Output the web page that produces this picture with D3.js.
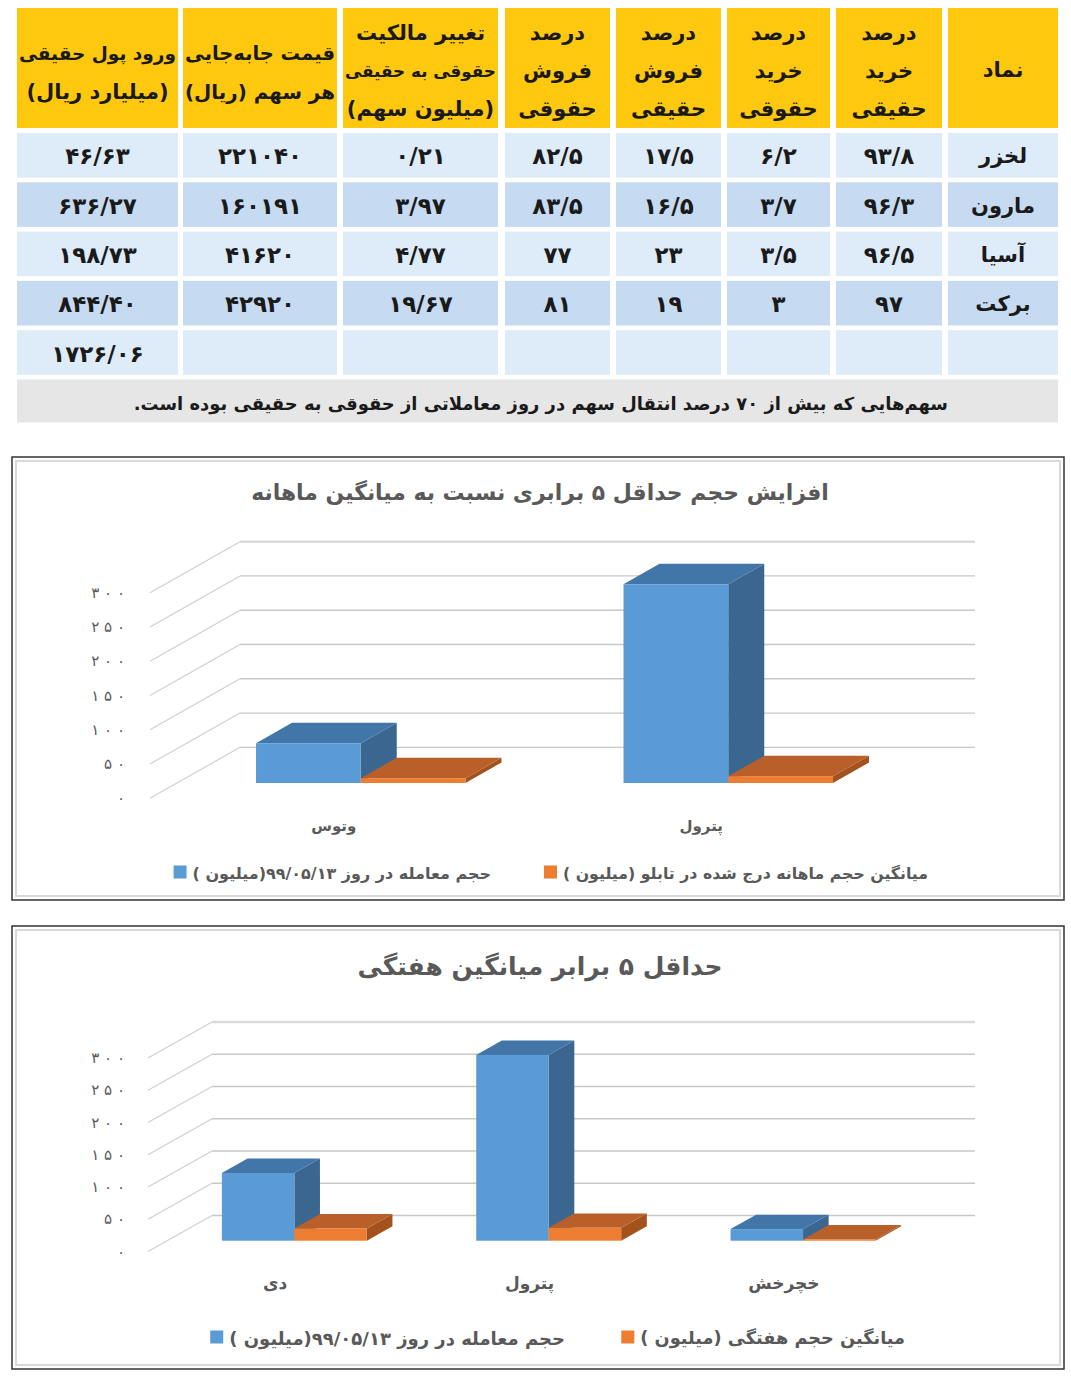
<!DOCTYPE html>
<html>
<head>
<meta charset="utf-8">
<script src="https://cdn.jsdelivr.net/npm/d3@7"></script>
<style>
  body { margin: 0; background: #fff; }
  text { font-family: "DejaVu Sans", sans-serif; }
</style>
</head>
<body>
<div id="page"></div>
<script>
// ---- table data ----
const symbols = ["لخزر", "مارون", "آسیا", "برکت"]
const buyReal = [93.8, 96.3, 96.5, 97]
const buyLegal = [6.2, 3.7, 3.5, 3]
const sellReal = [17.5, 16.5, 23, 19]
const sellLegal = [82.5, 83.5, 77, 81]
const ownershipChange = [0.21, 3.97, 4.77, 19.67]
const transferPrice = [221040, 160191, 41620, 42920]
const realInflow = [46.63, 636.27, 198.73, 844.4]
const realInflowTotal = 1726.06
const tableHeaders = [
  ["نماد"],
  ["درصد", "خرید", "حقیقی"],
  ["درصد", "خرید", "حقوقی"],
  ["درصد", "فروش", "حقیقی"],
  ["درصد", "فروش", "حقوقی"],
  ["تغییر مالکیت", "حقوقی به حقیقی", "(میلیون سهم)"],
  ["قیمت جابه‌جایی", "هر سهم (ریال)"],
  ["ورود پول حقیقی", "(میلیارد ریال)"]
]
const footnote = "سهم‌هایی که بیش از ۷۰ درصد انتقال سهم در روز معاملاتی از حقوقی به حقیقی بوده است."

// ---- chart data ----
const volumeTicks = [0, 50, 100, 150, 200, 250, 300]
const monthlyTitle = "افزایش حجم حداقل ۵ برابری نسبت به میانگین ماهانه"
const monthlyCategories = ["وتوس", "پترول"]
const monthlyDayVolume = [58, 290]
const monthlyAvgVolume = [7, 10]
const monthlySeriesNames = ["حجم معامله در روز ۹۹/۰۵/۱۳(میلیون )", "میانگین حجم ماهانه درج شده در تابلو (میلیون )"]

const weeklyTitle = "حداقل ۵ برابر میانگین هفتگی"
const weeklyCategories = ["دی", "پترول", "خچرخش"]
const weeklyDayVolume = [105, 288, 18]
const weeklyAvgVolume = [19, 20, 2]
const weeklySeriesNames = ["حجم معامله در روز ۹۹/۰۵/۱۳(میلیون )", "میانگین حجم هفتگی (میلیون )"]

// تبدیل ارقام به فارسی
const faDigits = "۰۱۲۳۴۵۶۷۸۹"
function fa(v, dec) {
  const s = dec == null ? String(v) : v.toFixed(dec)
  return s.replace(".", "/").replace(/\d/g, (d) => faDigits[d])
}

function fit(sel, maxW) {
  const len = sel.node().getComputedTextLength()
  if (len > maxW) {
    const fs = parseFloat(sel.attr("font-size"))
    sel.attr("font-size", (fs * maxW) / len)
  }
  return sel
}

const svg = d3.select("#page").append("svg")
  .attr("width", 1071)
  .attr("height", 1377)

// ================= table =================
// column edges, right to left
const colEdges = [[948, 1058], [836, 942], [727, 830], [616, 721], [505, 610], [343, 498], [183, 337], [17, 178]]
const columns = [
  { values: symbols, dec: null, name: true },
  { values: buyReal, dec: null },
  { values: buyLegal, dec: null },
  { values: sellReal, dec: null },
  { values: sellLegal, dec: null },
  { values: ownershipChange, dec: 2 },
  { values: transferPrice, dec: null },
  { values: realInflow.concat([realInflowTotal]), dec: 2 }
]
const rowY = (i) => 133 + i * 49.3
const rowH = 44.6
const rowFill = ["#deebf8", "#c6dbf2"]
const table = svg.append("g")

// header
tableHeaders.forEach((lines, c) => {
  const [x0, x1] = colEdges[c]
  table.append("rect").attr("x", x0).attr("y", 8).attr("width", x1 - x0).attr("height", 120).attr("fill", "#fec80e")
  const ys = lines.length === 1 ? [70] : lines.length === 2 ? [53, 92] : [33, 71, 109]
  lines.forEach((t, k) => {
    fit(table.append("text")
      .attr("x", (x0 + x1) / 2).attr("y", ys[k])
      .attr("text-anchor", "middle").attr("dominant-baseline", "central")
      .attr("direction", "rtl")
      .attr("font-size", 21).attr("font-weight", "bold").attr("fill", "#1a1a1a")
      .text(t), x1 - x0 - 4)
  })
})

// body
for (let r = 0; r < 5; r++) {
  columns.forEach((col, c) => {
    const [x0, x1] = colEdges[c]
    table.append("rect").attr("x", x0).attr("y", rowY(r)).attr("width", x1 - x0).attr("height", rowH)
      .attr("fill", rowFill[r % 2])
    const v = col.values[r]
    if (v === undefined) return
    fit(table.append("text")
      .attr("x", (x0 + x1) / 2).attr("y", rowY(r) + rowH / 2 + 1)
      .attr("text-anchor", "middle").attr("dominant-baseline", "central")
      .attr("font-size", col.name ? 21 : 23).attr("font-weight", "bold").attr("fill", "#1a1a1a")
      .text(col.name ? v : fa(v, col.dec)), x1 - x0 - 8)
  })
}

// footnote
table.append("rect").attr("x", 17).attr("y", 379.5).attr("width", 1041).attr("height", 43).attr("fill", "#e6e6e6")
fit(table.append("text")
  .attr("x", 948).attr("y", 403)
  .attr("direction", "rtl").attr("text-anchor", "start").attr("dominant-baseline", "central")
  .attr("font-size", 20).attr("font-weight", "bold").attr("fill", "#1a1a1a")
  .text(footnote), 815)

// ================= 3D column charts =================
const blue = { front: "#5b9bd5", top: "#4275a8", side: "#3a6690" }
const orange = { front: "#ed7d31", top: "#b9602a", side: "#a3521e" }

function drawChart(o) {
  const g = svg.append("g")
  const [bx, by, bw, bh] = o.box
  g.append("rect").attr("x", bx).attr("y", by).attr("width", bw).attr("height", bh)
    .attr("fill", "#fff").attr("stroke", "#333").attr("stroke-width", 1.5)
  g.append("rect").attr("x", bx + 4).attr("y", by + 4).attr("width", bw - 8).attr("height", bh - 8)
    .attr("fill", "none").attr("stroke", "#d9d9d9").attr("stroke-width", 2)

  fit(g.append("text")
    .attr("x", o.titleX).attr("y", o.titleY)
    .attr("text-anchor", "middle").attr("dominant-baseline", "central").attr("direction", "rtl")
    .attr("font-size", o.titleSize).attr("font-weight", "bold").attr("fill", "#595959")
    .text(o.title), o.titleW)

  const y = d3.scaleLinear().domain([0, 300]).range([o.yZero, o.yTop])
  const x = d3.scaleBand().domain(o.categories).range([o.left, o.right])

  // grid: diagonal floor lines + back wall lines
  volumeTicks.forEach((v, i) => {
    const top = i === volumeTicks.length - 1
    g.append("line")
      .attr("x1", o.left).attr("y1", y(v))
      .attr("x2", o.left + o.dx).attr("y2", y(v) + o.dy)
      .attr("stroke", "#cfcfcf").attr("stroke-width", 1.1)
    g.append("line")
      .attr("x1", o.left + o.dx).attr("y1", y(v) + o.dy)
      .attr("x2", o.right + o.dx).attr("y2", y(v) + o.dy)
      .attr("stroke", top ? "#dadada" : "#c8c8c8").attr("stroke-width", top ? 2.6 : 1.3)
    // ارقام محور با فاصله بین رقم‌ها
    g.append("text")
      .attr("x", 125).attr("y", y(v))
      .attr("text-anchor", "end").attr("dominant-baseline", "central")
      .attr("font-size", 15).attr("fill", "#595959")
      .style("white-space", "pre")
      .text(fa(v).split("").join(" "))
  })

  // category labels
  o.categories.forEach((c) => {
    g.append("text")
      .attr("x", x(c) + x.bandwidth() / 2).attr("y", o.catY)
      .attr("text-anchor", "middle").attr("dominant-baseline", "central").attr("direction", "rtl")
      .attr("font-size", o.catSize).attr("font-weight", "bold").attr("fill", "#595959")
      .text(c)
  })

  // bars
  const t0 = 0.3, depth = 0.4
  const sx = o.dx * t0, sy = o.dy * t0
  const ddx = o.dx * depth, ddy = o.dy * depth
  const w = x.bandwidth() * 0.285
  const series = [[o.day, blue], [o.avg, orange]]
  o.categories.forEach((c, i) => {
    series.forEach(([vals, col], si) => {
      const x0 = x(c) + x.bandwidth() / 2 + sx + (si - 1) * w
      const x1 = x0 + w
      const yb = y(0) + sy
      const yt = y(vals[i]) + sy
      g.append("polygon")
        .attr("points", [[x1, yt], [x1 + ddx, yt + ddy], [x1 + ddx, yb + ddy], [x1, yb]].join(" "))
        .attr("fill", col.side)
      g.append("polygon")
        .attr("points", [[x0, yt], [x1, yt], [x1 + ddx, yt + ddy], [x0 + ddx, yt + ddy]].join(" "))
        .attr("fill", col.top)
      g.append("rect")
        .attr("x", x0).attr("y", yt).attr("width", w).attr("height", yb - yt)
        .attr("fill", col.front)
    })
  })

  // legend
  o.legend.forEach((name, k) => {
    const col = k === 0 ? blue : orange
    const right = o.legendRight[k]
    const t = fit(g.append("text")
      .attr("x", 0).attr("y", o.legendY)
      .attr("text-anchor", "middle").attr("dominant-baseline", "central").attr("direction", "rtl")
      .attr("font-size", o.legendSize).attr("font-weight", "bold").attr("fill", "#595959")
      .text(name), o.legendW[k])
    const len = t.node().getComputedTextLength()
    t.attr("x", right - len / 2)
    const s = 13
    g.append("rect")
      .attr("x", right - len - 6 - s).attr("y", o.legendY - s / 2 - 1)
      .attr("width", s).attr("height", s)
      .attr("fill", col.front)
  })
}

drawChart({
  box: [12, 457, 1052, 443],
  title: monthlyTitle, titleX: 540, titleY: 492, titleSize: 22, titleW: 578,
  categories: monthlyCategories, day: monthlyDayVolume, avg: monthlyAvgVolume,
  left: 150, right: 885, dx: 90, dy: -51, yZero: 798.3, yTop: 592.7,
  catY: 826, catSize: 15,
  legend: monthlySeriesNames, legendY: 873, legendSize: 16, legendRight: [491, 928], legendW: [314, 365]
})

drawChart({
  box: [12, 926, 1052, 443],
  title: weeklyTitle, titleX: 540, titleY: 966, titleSize: 25, titleW: 365,
  categories: weeklyCategories, day: weeklyDayVolume, avg: weeklyAvgVolume,
  left: 148, right: 911, dx: 64, dy: -36, yZero: 1251.5, yTop: 1058,
  catY: 1283, catSize: 17,
  legend: weeklySeriesNames, legendY: 1338, legendSize: 18, legendRight: [565, 905], legendW: [362, 265]
})
</script>
</body>
</html>
